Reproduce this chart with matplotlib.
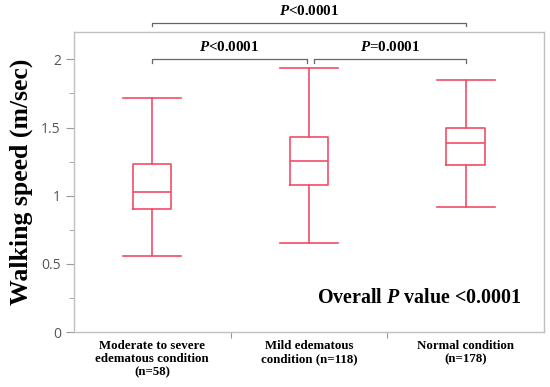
import matplotlib
matplotlib.use('Agg')
import matplotlib.pyplot as plt
from matplotlib.ticker import MultipleLocator

plt.rcParams['mathtext.fontset'] = 'custom'
plt.rcParams['mathtext.it'] = 'Liberation Serif:italic:bold'
plt.rcParams['mathtext.rm'] = 'Liberation Serif:bold'

# box summary values
groups = ['Moderate to severe\nedematous condition\n(n=58)',
          'Mild edematous\ncondition (n=118)',
          'Normal condition\n(n=178)']
whislo = [0.557, 0.65, 0.918]
q1 = [0.90, 1.075, 1.226]
med = [1.03, 1.255, 1.39]
q3 = [1.23, 1.43, 1.495]
whishi = [1.72, 1.94, 1.85]

stats = []
for i in range(len(groups)):
    stats.append({'whislo': whislo[i], 'q1': q1[i], 'med': med[i],
                  'q3': q3[i], 'whishi': whishi[i], 'fliers': []})

red = '#f24d68'
grey = '#555555'
serif = 'Liberation Serif'

fig = plt.figure(figsize=(5.5, 3.87), dpi=100)
ax = fig.add_axes([0.1345, 0.142, 0.8545, 0.775])

lp = dict(color=red, linewidth=1.2)
ax.bxp(stats, positions=[0, 1, 2], widths=0.245, showfliers=False,
       boxprops=lp, medianprops=lp, whiskerprops=lp, capprops=lp,
       capwidths=0.37)

ax.set_xlim(-0.5, 2.5)
ax.set_ylim(0, 2.2)

for s in ax.spines.values():
    s.set_color('#c0c0c0')
    s.set_linewidth(1.0)

ax.yaxis.set_minor_locator(MultipleLocator(0.25))
ax.set_yticks([0, 0.5, 1, 1.5, 2])
ax.set_yticklabels(['0', '0.5', '1', '1.5', '2'])
ax.tick_params(axis='y', which='major', length=6, color='#999999',
               labelsize=10, labelcolor=grey)
ax.tick_params(axis='y', which='minor', length=3.5, color='#999999')
for lab in ax.get_yticklabels():
    lab.set_family('Open Sans')

# category boundary ticks, labels in between
ax.set_xticks([0.5, 1.5])
ax.set_xticklabels(['', ''])
ax.tick_params(axis='x', length=4, color='#999999')
for i, g in enumerate(groups):
    ax.text(i, -0.055, g, ha='center', va='top', fontsize=9.3,
            fontweight='bold', family=serif, linespacing=1.15)

ax.set_ylabel('Walking speed (m/sec)', fontsize=18.5, fontweight='bold',
              family=serif, labelpad=6)

# significance brackets
bc = '#666666'
def bracket(x0, x1, y, label, dy):
    d = 0.025
    ax.plot([x0, x0, x1, x1], [y - d, y, y, y - d], color=bc, lw=0.9,
            clip_on=False)
    ax.text((x0 + x1) / 2, y + dy, label, ha='center', va='bottom',
            fontsize=10.8, fontweight='bold', family=serif)

bracket(0.0, 0.985, 2.0, r'$\mathit{P}$<0.0001', 0.04)
bracket(1.03, 2.0, 2.0, r'$\mathit{P}$=0.0001', 0.04)
bracket(0.0, 2.0, 2.27, r'$\mathit{P}$<0.0001', 0.03)

ax.text(0.953, 0.113, r'Overall $\mathit{P}$ value <0.0001', transform=ax.transAxes,
        ha='right', va='center', fontsize=14.4, fontweight='bold', family=serif)

fig.savefig('out.png', dpi=100)
